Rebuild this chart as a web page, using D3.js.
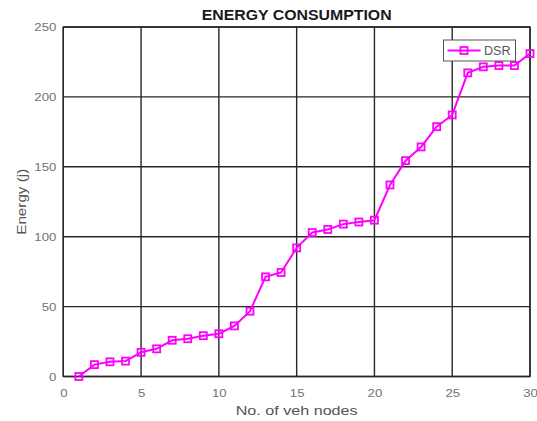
<!DOCTYPE html>
<html>
<head>
<meta charset="utf-8">
<script src="https://cdn.jsdelivr.net/npm/d3@7"></script>
<style>
  html, body { margin: 0; padding: 0; background: #fff; }
  svg { display: block; font-family: "Liberation Sans", Arial, sans-serif; }
</style>
</head>
<body>
<svg id="chart" width="537" height="421"></svg>
<script>
// Energy consumed (j) for DSR as the number of vehicle nodes grows
const nodes = [1, 2, 3, 4, 5, 6, 7, 8, 9, 10, 11, 12, 13, 14, 15,
               16, 17, 18, 19, 20, 21, 22, 23, 24, 25, 26, 27, 28, 29, 30];
const dsrEnergy = [0, 8.5, 10.5, 11, 17.3, 19.8, 25.9, 27, 29.2, 30.6, 36.2, 46.7, 71.3, 74.4, 92,
                   103, 105.2, 109, 110.5, 111.8, 137, 154.4, 164.2, 178.7, 187.1, 217.2, 221.5, 222.4, 222.4, 231];
const xTicks = [0, 5, 10, 15, 20, 25, 30];
const yTicks = [0, 50, 100, 150, 200, 250];
const seriesName = "DSR";

const svg = d3.select("#chart");
const W = 537, H = 421;
const margin = { left: 63.3, right: W - 530, top: 27, bottom: H - 376.5 };

const x = d3.scaleLinear().domain([0, 30]).range([margin.left, W - margin.right]);
const y = d3.scaleLinear().domain([0, 250]).range([H - margin.bottom, margin.top]);

const gridColor = "#262626";
const labelColor = "#555";
const tickColor = "#737373";
const wide = 1.15; // text is set slightly expanded

// grid lines
svg.append("g")
  .selectAll("line")
  .data(xTicks)
  .join("line")
  .attr("x1", d => x(d)).attr("x2", d => x(d))
  .attr("y1", y(0)).attr("y2", y(250))
  .attr("stroke", gridColor).attr("stroke-width", 1.4);

svg.append("g")
  .selectAll("line")
  .data(yTicks)
  .join("line")
  .attr("x1", x(0)).attr("x2", x(30))
  .attr("y1", d => y(d)).attr("y2", d => y(d))
  .attr("stroke", gridColor).attr("stroke-width", 1.4);

// frame
svg.append("rect")
  .attr("x", x(0)).attr("y", y(250))
  .attr("width", x(30) - x(0)).attr("height", y(0) - y(250))
  .attr("fill", "none").attr("stroke", gridColor).attr("stroke-width", 1.4);

// axes (labels only; the frame and grid carry the lines)
const xAxis = svg.append("g")
  .attr("transform", `translate(0,${y(0)})`)
  .call(d3.axisBottom(x).tickValues(xTicks).tickSize(0).tickPadding(12));
const yAxis = svg.append("g")
  .attr("transform", `translate(${x(0)},0)`)
  .call(d3.axisLeft(y).tickValues(yTicks).tickSize(0).tickPadding(6));
[xAxis, yAxis].forEach(a => {
  a.select(".domain").remove();
  a.selectAll("text")
    .attr("fill", tickColor)
    .attr("transform", `scale(${wide},1)`)
    .style("font-size", "11.5px")
    .style("font-family", "'Liberation Sans', Arial, sans-serif");
});

// title and axis labels
svg.append("text")
  .attr("x", (x(0) + x(30)) / 2).attr("y", 20)
  .attr("text-anchor", "middle")
  .attr("font-weight", "bold").attr("font-size", "14px")
  .attr("fill", "#1a1a1a")
  .attr("textLength", 190).attr("lengthAdjust", "spacingAndGlyphs")
  .text("ENERGY CONSUMPTION");

svg.append("text")
  .attr("x", (x(0) + x(30)) / 2).attr("y", 415)
  .attr("text-anchor", "middle")
  .attr("font-size", "13.5px").attr("fill", labelColor)
  .attr("textLength", 122).attr("lengthAdjust", "spacingAndGlyphs")
  .text("No. of veh nodes");

svg.append("text")
  .attr("transform", `translate(26,${(y(0) + y(250)) / 2}) rotate(-90)`)
  .attr("text-anchor", "middle")
  .attr("font-size", "13px").attr("fill", labelColor)
  .attr("textLength", 66).attr("lengthAdjust", "spacingAndGlyphs")
  .text("Energy (j)");

// DSR series
const color = "#ff00ff";
const pts = nodes.map((n, i) => [n, dsrEnergy[i]]);
svg.append("path")
  .datum(pts)
  .attr("fill", "none").attr("stroke", color).attr("stroke-width", 2)
  .attr("d", d3.line().x(d => x(d[0])).y(d => y(d[1])));

const ms = 7;
svg.append("g")
  .selectAll("rect")
  .data(pts)
  .join("rect")
  .attr("x", d => x(d[0]) - ms / 2).attr("y", d => y(d[1]) - ms / 2)
  .attr("width", ms).attr("height", ms)
  .attr("fill", "none").attr("stroke", color).attr("stroke-width", 1.8);

// legend
const lg = svg.append("g").attr("transform", "translate(443.5,40)");
lg.append("rect")
  .attr("width", 72).attr("height", 21)
  .attr("fill", "#fff").attr("stroke", "#555").attr("stroke-width", 1);
lg.append("line")
  .attr("x1", 4).attr("x2", 37).attr("y1", 10.5).attr("y2", 10.5)
  .attr("stroke", color).attr("stroke-width", 2);
lg.append("rect")
  .attr("x", 20.5 - ms / 2).attr("y", 10.5 - ms / 2)
  .attr("width", ms).attr("height", ms)
  .attr("fill", "none").attr("stroke", color).attr("stroke-width", 1.8);
lg.append("text")
  .attr("x", 40.5).attr("y", 15)
  .attr("font-size", "12px").attr("fill", labelColor)
  .attr("textLength", 26.5).attr("lengthAdjust", "spacingAndGlyphs")
  .text(seriesName);
</script>
</body>
</html>
